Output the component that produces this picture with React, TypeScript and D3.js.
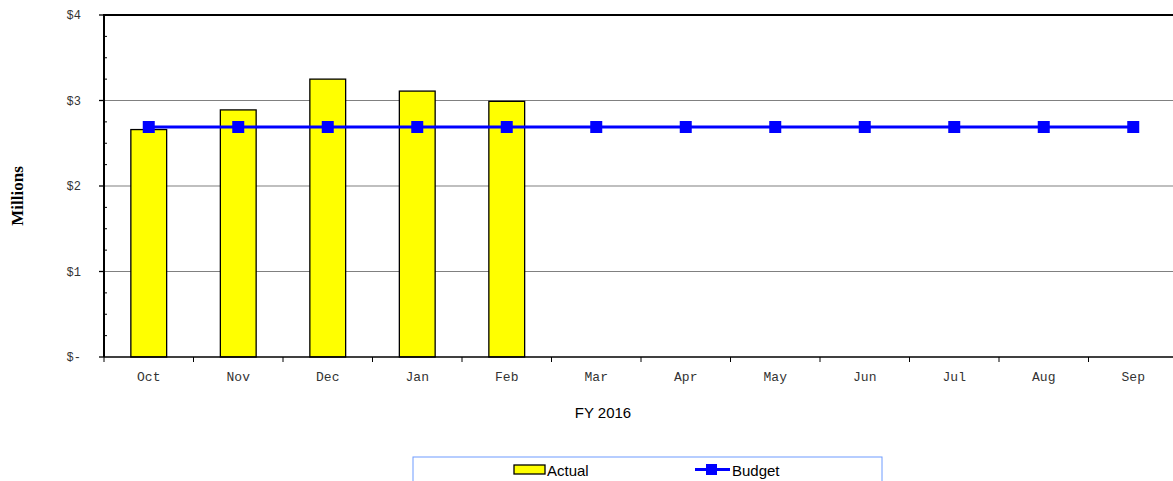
import * as d3 from 'd3';
import React from 'react';

// 월별 실적 / 예산 (단위: 백만 달러)
const months = ['Oct', 'Nov', 'Dec', 'Jan', 'Feb', 'Mar', 'Apr', 'May', 'Jun', 'Jul', 'Aug', 'Sep'];
const actual: (number | null)[] = [2.66, 2.89, 3.25, 3.11, 2.99, null, null, null, null, null, null, null];
const budget: number[] = [2.69, 2.69, 2.69, 2.69, 2.69, 2.69, 2.69, 2.69, 2.69, 2.69, 2.69, 2.69];
const yTicks = [0, 1, 2, 3, 4];
const yTickLabels = ['$-', '$1', '$2', '$3', '$4'];

const App: React.FC = () => {
    const width = 1173;
    const height = 481;
    const marginLeft = 104;
    const plotRight = 1178;
    const marginTop = 15;
    const plotBottom = 357;

    const x = d3.scaleBand<string>().domain(months).range([marginLeft, plotRight]).paddingInner(0).paddingOuter(0);
    const y = d3.scaleLinear().domain([0, 4]).range([plotBottom, marginTop]);
    const barW = x.bandwidth() * 0.4;
    const cx = (m: string) => (x(m) ?? 0) + x.bandwidth() / 2;

    const line = d3
        .line<number>()
        .x((d, i) => cx(months[i]))
        .y((d) => y(d));

    const minorTicks = d3.range(0, 4.01, 0.25).filter((v) => Math.abs(v - Math.round(v)) > 0.01);
    const mono = '"Liberation Mono", "Courier New", monospace';
    const sans = '"Liberation Sans", Arial, sans-serif';

    return (
        <svg width={width} height={height} style={{ position: 'absolute', left: 0, top: 0, background: '#fff' }}>
            {/* 그리드 */}
            {[1, 2, 3].map((v) => (
                <line key={v} x1={marginLeft} x2={plotRight} y1={y(v)} y2={y(v)} stroke="#808080" strokeWidth={1.2} />
            ))}
            <line x1={marginLeft} x2={plotRight} y1={y(4)} y2={y(4)} stroke="#000" strokeWidth={2} />

            {/* 막대 */}
            <g fill="#ffff00" stroke="#000" strokeWidth={1.3}>
                {months.map((m, i) =>
                    actual[i] == null ? null : (
                        <rect key={m} x={cx(m) - barW / 2} y={y(actual[i] as number)} width={barW} height={y(0) - y(actual[i] as number)} />
                    )
                )}
            </g>

            {/* 축 */}
            <line x1={marginLeft} x2={plotRight} y1={y(0)} y2={y(0)} stroke="#000" strokeWidth={1.5} />
            <line x1={marginLeft} x2={marginLeft} y1={y(4) - 1} y2={y(0)} stroke="#000" strokeWidth={2} />
            {yTicks.map((v) => (
                <line key={v} x1={marginLeft - 5} x2={marginLeft} y1={y(v)} y2={y(v)} stroke="#000" strokeWidth={1.3} />
            ))}
            {minorTicks.map((v) => (
                <line key={v} x1={marginLeft} x2={marginLeft + 3} y1={y(v)} y2={y(v)} stroke="#000" strokeWidth={1} />
            ))}
            {months.map((m) => (
                <line key={m} x1={x(m) ?? 0} x2={x(m) ?? 0} y1={y(0)} y2={y(0) + 5} stroke="#000" strokeWidth={1} />
            ))}
            {yTicks.map((v, i) => (
                <text key={v} x={81} y={y(v) + 4} textAnchor="end" fontFamily={mono} fontSize={12} fill="#333">
                    {yTickLabels[i]}
                </text>
            ))}
            {months.map((m) => (
                <text key={m} x={cx(m)} y={381} textAnchor="middle" fontFamily={mono} fontSize={13} fill="#333">
                    {m}
                </text>
            ))}

            {/* 예산 선 */}
            <path d={line(budget) ?? ''} fill="none" stroke="#0000ff" strokeWidth={3} />
            <g fill="#0000ff">
                {budget.map((d, i) => (
                    <rect key={i} x={cx(months[i]) - 6} y={y(d) - 6} width={12} height={12} />
                ))}
            </g>

            {/* 축 제목 */}
            <text x={603} y={418} textAnchor="middle" fontFamily={sans} fontSize={15} fill="#000">
                FY 2016
            </text>
            <text
                transform="translate(23,196) rotate(-90)"
                textAnchor="middle"
                fontFamily='"Liberation Serif", "Times New Roman", serif'
                fontWeight="bold"
                fontSize={17}
                fill="#000"
            >
                Millions
            </text>

            {/* 범례 */}
            <rect x={413} y={457} width={469} height={40} fill="none" stroke="#6e9cff" strokeWidth={1} />
            <rect x={514} y={465} width={31} height={9} fill="#ffff00" stroke="#000" strokeWidth={1.3} />
            <text x={547} y={476} fontFamily={sans} fontSize={15} fill="#000">
                Actual
            </text>
            <line x1={695} x2={730} y1={469.5} y2={469.5} stroke="#0000ff" strokeWidth={3} />
            <rect x={706} y={464} width={11} height={11} fill="#0000ff" />
            <text x={732} y={476} fontFamily={sans} fontSize={15} fill="#000">
                Budget
            </text>
        </svg>
    );
};

export default App;
